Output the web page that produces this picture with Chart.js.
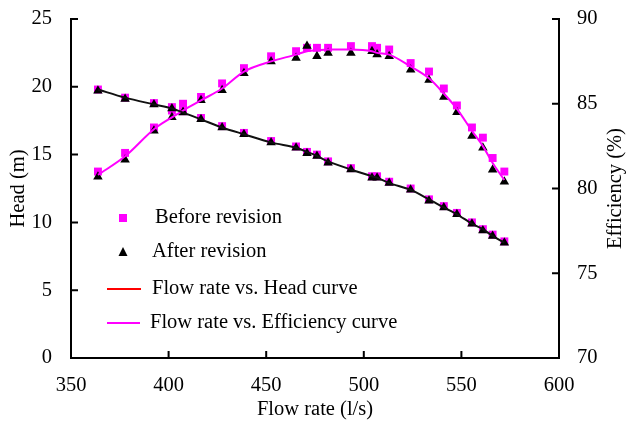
<!DOCTYPE html>
<html lang="en">
<head>
    <meta charset="UTF-8">
    <title>Head and efficiency vs flow rate</title>
    <script src="https://cdn.jsdelivr.net/npm/chart.js"></script>
    <style>
        body {
            margin: 0;
            background-color: #ffffff;
        }
        canvas {
            display: block;
        }
    </style>
</head>
<body>

    <canvas id="grafico" width="627" height="426"></canvas>

    <script>
        // flow rate of each test point (l/s)
        const flowRate = [363.8, 377.7, 392.5, 401.7, 407.4, 416.6, 427.4, 438.6, 452.5, 465.3, 470.9, 476.0, 481.7,
                          493.4, 504.2, 506.8, 513.0, 524.0, 533.4, 541.0, 547.7, 555.4, 561.0, 566.0, 572.0];

        // head (m)
        const headBefore = [19.8, 19.2, 18.8, 18.5, 18.2, 17.7, 17.1, 16.6, 16.0, 15.6, 15.2, 15.0, 14.5,
                            14.0, 13.4, 13.4, 13.0, 12.5, 11.7, 11.2, 10.7, 10.0, 9.5, 9.1, 8.6];
        const headAfter = [19.7, 19.1, 18.7, 18.4, 18.1, 17.6, 17.0, 16.5, 15.9, 15.5, 15.1, 14.9, 14.4,
                           13.9, 13.3, 13.3, 12.9, 12.4, 11.6, 11.1, 10.6, 9.9, 9.4, 9.0, 8.5];
        const headCurve = [19.8, 19.2, 18.7, 18.4, 18.1, 17.6, 17.0, 16.5, 15.9, 15.5, 15.2, 14.9, 14.5,
                           13.9, 13.4, 13.3, 12.9, 12.4, 11.7, 11.1, 10.6, 9.9, 9.5, 9.0, 8.5];

        // efficiency (%)
        const effBefore = [81.0, 82.1, 83.6, 84.6, 85.0, 85.4, 86.2, 87.1, 87.8, 88.1, 88.3, 88.3, 88.3,
                           88.4, 88.4, 88.3, 88.2, 87.4, 86.9, 85.9, 84.9, 83.6, 83.0, 81.8, 81.0];
        const effAfter = [80.7, 81.7, 83.4, 84.2, 84.5, 85.2, 85.8, 86.8, 87.5, 87.7, 88.4, 87.8, 88.0,
                          88.0, 88.1, 87.9, 87.8, 87.0, 86.4, 85.4, 84.5, 83.1, 82.4, 81.1, 80.4];
        const effCurve = [80.8, 81.9, 83.5, 84.2, 84.6, 85.2, 85.9, 86.9, 87.5, 87.9, 88.1, 88.15, 88.2,
                          88.2, 88.1, 88.0, 87.9, 87.2, 86.5, 85.6, 84.7, 83.4, 82.5, 81.5, 80.5];

        const legendItems = ['Before revision', 'After revision', 'Flow rate vs. Head curve', 'Flow rate vs. Efficiency curve'];

        const fonte = 'Liberation Serif, Times New Roman, serif';
        const tamanho = 20.5;
        const rosa = '#ff00ff';

        function pontos(ys) {
            return flowRate.map((x, i) => ({ x: x, y: ys[i] }));
        }

        // tick marks pointing into the plot, legend and right title
        const extras = {
            id: 'extras',
            afterDraw(chart) {
                const ctx = chart.ctx;
                const area = chart.chartArea;
                const sx = chart.scales.x, sy = chart.scales.y, sy2 = chart.scales.y2;
                ctx.save();
                ctx.strokeStyle = '#000';
                ctx.lineWidth = 2;
                ctx.beginPath();
                sx.ticks.forEach(t => {
                    const px = sx.getPixelForValue(t.value);
                    ctx.moveTo(px, area.bottom);
                    ctx.lineTo(px, area.bottom - 7);
                });
                sy.ticks.forEach(t => {
                    const py = sy.getPixelForValue(t.value);
                    ctx.moveTo(area.left, py);
                    ctx.lineTo(area.left + 7, py);
                });
                sy2.ticks.forEach(t => {
                    const py = sy2.getPixelForValue(t.value);
                    ctx.moveTo(area.right, py);
                    ctx.lineTo(area.right - 7, py);
                });
                ctx.stroke();

                // legend
                ctx.font = tamanho + 'px ' + fonte;
                ctx.textBaseline = 'middle';
                ctx.textAlign = 'left';
                const linhas = [218, 252, 289, 323];
                ctx.fillStyle = rosa;
                ctx.fillRect(119, linhas[0] - 4, 8, 8);
                ctx.fillStyle = '#000';
                ctx.beginPath();
                ctx.moveTo(123, linhas[1] - 5);
                ctx.lineTo(127.5, linhas[1] + 4);
                ctx.lineTo(118.5, linhas[1] + 4);
                ctx.closePath();
                ctx.fill();
                ctx.lineWidth = 2;
                ctx.strokeStyle = '#ff0000';
                ctx.beginPath();
                ctx.moveTo(107, linhas[2]);
                ctx.lineTo(141, linhas[2]);
                ctx.stroke();
                ctx.strokeStyle = rosa;
                ctx.beginPath();
                ctx.moveTo(107, linhas[3]);
                ctx.lineTo(140, linhas[3]);
                ctx.stroke();
                ctx.fillText(legendItems[0], 155, linhas[0]);
                ctx.fillText(legendItems[1], 152, linhas[1]);
                ctx.fillText(legendItems[2], 152, linhas[2]);
                ctx.fillText(legendItems[3], 150, linhas[3]);

                // right axis title, reading upwards
                ctx.translate(616, (area.top + area.bottom) / 2);
                ctx.rotate(-Math.PI / 2);
                ctx.textAlign = 'center';
                ctx.fillText('Efficiency (%)', 0, 0);
                ctx.restore();
            }
        };

        // fixed box for the vertical axes so the plot starts at y = 19
        function caixaVertical(largura) {
            return s => {
                s.width = largura;
                s.paddingTop = 19;
                s.paddingBottom = 12;
            };
        }

        const ctx = document.getElementById('grafico').getContext('2d');

        new Chart(ctx, {
            type: 'scatter',
            data: {
                datasets: [
                    {
                        label: 'After revision head',
                        data: pontos(headAfter),
                        yAxisID: 'y',
                        pointStyle: 'triangle',
                        pointRadius: 5.5,
                        backgroundColor: '#000',
                        borderColor: '#000',
                        borderWidth: 0,
                        order: 1
                    },
                    {
                        label: 'After revision efficiency',
                        data: pontos(effAfter),
                        yAxisID: 'y2',
                        pointStyle: 'triangle',
                        pointRadius: 5.5,
                        backgroundColor: '#000',
                        borderColor: '#000',
                        borderWidth: 0,
                        order: 2
                    },
                    {
                        label: 'Before revision head',
                        data: pontos(headBefore),
                        yAxisID: 'y',
                        pointStyle: 'rect',
                        pointRadius: 5.6,
                        backgroundColor: rosa,
                        borderColor: rosa,
                        borderWidth: 0,
                        order: 3
                    },
                    {
                        label: 'Before revision efficiency',
                        data: pontos(effBefore),
                        yAxisID: 'y2',
                        pointStyle: 'rect',
                        pointRadius: 5.6,
                        backgroundColor: rosa,
                        borderColor: rosa,
                        borderWidth: 0,
                        order: 4
                    },
                    {
                        type: 'line',
                        label: 'Flow rate vs. Head curve',
                        data: pontos(headCurve),
                        yAxisID: 'y',
                        borderColor: '#111',
                        borderWidth: 2,
                        pointRadius: 0,
                        tension: 0.3,
                        order: 0
                    },
                    {
                        type: 'line',
                        label: 'Flow rate vs. Efficiency curve',
                        data: pontos(effCurve),
                        yAxisID: 'y2',
                        borderColor: rosa,
                        borderWidth: 2,
                        pointRadius: 0,
                        cubicInterpolationMode: 'monotone',
                        order: 0
                    }
                ]
            },
            options: {
                responsive: false,
                animation: false,
                layout: {
                    padding: 0
                },
                plugins: {
                    legend: { display: false },
                    tooltip: { enabled: false }
                },
                scales: {
                    x: {
                        type: 'linear',
                        min: 350,
                        max: 600,
                        afterFit: s => { s.height = 68; },
                        grid: { drawOnChartArea: false, drawTicks: false },
                        border: { display: true, color: '#000', width: 2 },
                        ticks: {
                            stepSize: 50,
                            padding: 15,
                            color: '#000',
                            font: { family: fonte, size: tamanho }
                        },
                        title: {
                            display: true,
                            text: 'Flow rate (l/s)',
                            color: '#000',
                            font: { family: fonte, size: tamanho },
                            padding: { top: 0, bottom: 4 }
                        }
                    },
                    y: {
                        position: 'left',
                        min: 0,
                        max: 25,
                        afterFit: caixaVertical(71),
                        grid: { drawOnChartArea: false, drawTicks: false },
                        border: { display: true, color: '#000', width: 2 },
                        ticks: {
                            stepSize: 5,
                            padding: 19,
                            color: '#000',
                            font: { family: fonte, size: tamanho }
                        },
                        title: {
                            display: true,
                            text: 'Head (m)',
                            color: '#000',
                            font: { family: fonte, size: tamanho },
                            padding: { top: 6, bottom: 0 }
                        }
                    },
                    y2: {
                        position: 'right',
                        min: 70,
                        max: 90,
                        afterFit: caixaVertical(68),
                        grid: { drawOnChartArea: false, drawTicks: false },
                        border: { display: true, color: '#000', width: 2 },
                        ticks: {
                            stepSize: 5,
                            padding: 18,
                            color: '#000',
                            font: { family: fonte, size: tamanho }
                        }
                    }
                }
            },
            plugins: [extras]
        });
    </script>
</body>
</html>
